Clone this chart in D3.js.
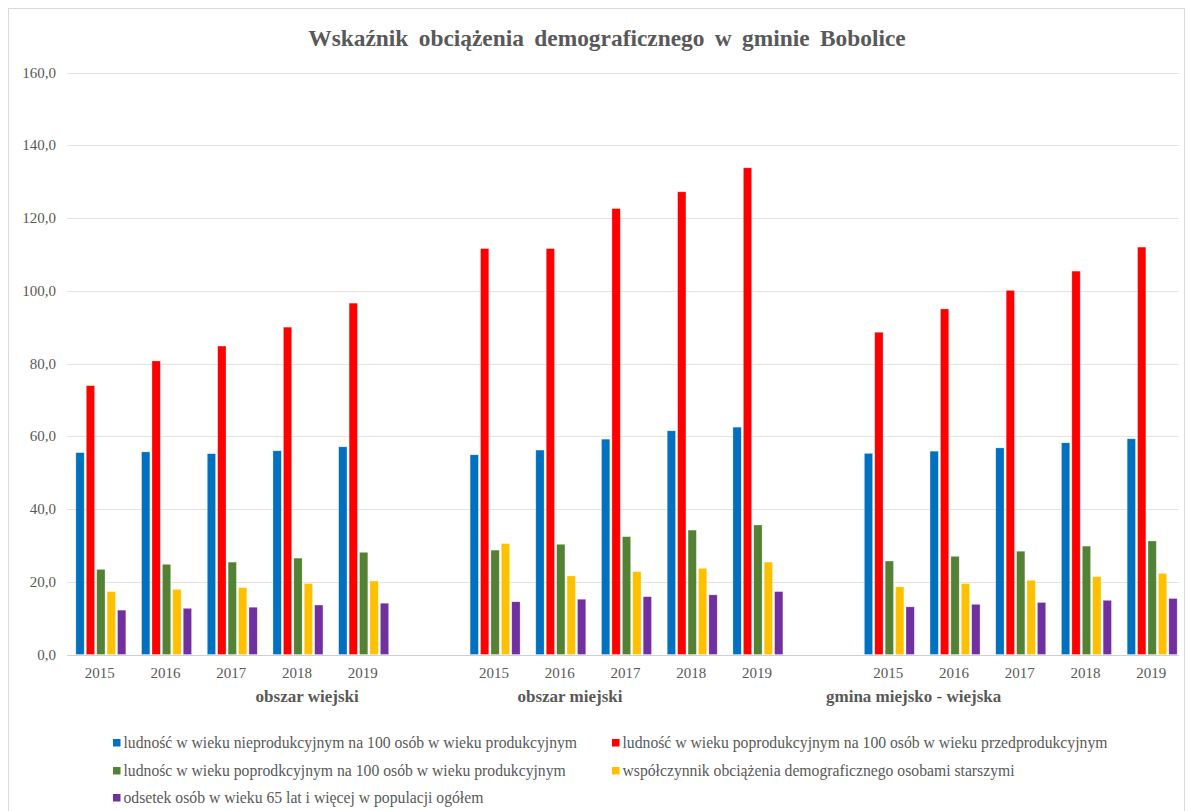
<!DOCTYPE html>
<html><head><meta charset="utf-8">
<script src="https://cdn.jsdelivr.net/npm/d3@7"></script>
<style>body{margin:0;background:#fff}svg{display:block}</style>
</head><body>
<svg id="c" width="1191" height="811"></svg>
<script>
const groups = ["obszar wiejski", "obszar miejski", "gmina miejsko - wiejska"];
const years = ["2015", "2016", "2017", "2018", "2019"];
const seriesNames = [
  "ludność w wieku nieprodukcyjnym na 100 osób w wieku produkcyjnym",
  "ludność w wieku poprodukcyjnym na 100 osób w wieku przedprodukcyjnym",
  "ludnośc w wieku poprodkcyjnym na 100 osób w wieku produkcyjnym",
  "współczynnik obciążenia demograficznego osobami starszymi",
  "odsetek osób w wieku 65 lat i więcej w populacji ogółem"
];
const colors = ["#0070C0", "#FF0000", "#548235", "#FFC000", "#7030A0"];
// values per series: 15 entries = 3 groups x 5 years
const s1 = [55.5, 55.7, 55.2, 56.0, 57.1,  54.9, 56.2, 59.2, 61.5, 62.5,  55.3, 55.9, 56.8, 58.2, 59.3];
const s2 = [73.9, 80.7, 84.8, 90.0, 96.6,  111.6, 111.6, 122.6, 127.2, 133.8,  88.6, 95.0, 100.1, 105.4, 112.0];
const s3 = [23.4, 24.8, 25.4, 26.5, 28.1,  28.7, 30.3, 32.4, 34.2, 35.6,  25.7, 27.0, 28.4, 29.8, 31.2];
const s4 = [17.3, 17.9, 18.4, 19.5, 20.2,  30.5, 21.6, 22.8, 23.7, 25.4,  18.6, 19.5, 20.4, 21.4, 22.3];
const s5 = [12.2, 12.7, 13.0, 13.6, 14.1,  14.5, 15.2, 15.9, 16.4, 17.3,  13.1, 13.8, 14.3, 14.9, 15.4];
const seriesValues = [s1, s2, s3, s4, s5];
const yTicks = [0, 20, 40, 60, 80, 100, 120, 140, 160];

const svg = d3.select("#c");
const serif = "'Liberation Serif','Times New Roman',serif";
const txt = "#595959";

// chart frame
svg.append("rect").attr("x", 8.5).attr("y", 8.5).attr("width", 1176).attr("height", 812)
  .attr("fill", "#fff").attr("stroke", "#d9d9d9").attr("stroke-width", 1);

// slots: 5 per group with one blank between groups
const slots = [];
groups.forEach((g, gi) => {
  years.forEach((yv, yi) => slots.push({key: gi + "-" + yv, group: gi, year: yv, idx: gi * 5 + yi}));
  if (gi < groups.length - 1) slots.push({key: "blank" + gi, blank: true});
});

const x = d3.scaleBand().domain(slots.map(d => d.key)).range([68, 1185]).padding(0);
const inner = d3.scaleBand().domain(d3.range(5)).range([-25, 25]).paddingInner(0.2);
const y = d3.scaleLinear().domain([0, 160]).range([654.5, 72.5]);

// gridlines
svg.append("g").selectAll("line").data(yTicks).join("line")
  .attr("x1", 67).attr("x2", 1179)
  .attr("y1", d => Math.round(y(d)) + 0.5).attr("y2", d => Math.round(y(d)) + 0.5)
  .attr("stroke", d => d === 0 ? "#d0d0d0" : "#e3e3e3").attr("stroke-width", 1.2);

// y labels
const fmt = d => d.toFixed(1).replace(".", ",");
svg.append("g").selectAll("text").data(yTicks).join("text")
  .attr("x", 56).attr("y", d => y(d) + 5).attr("text-anchor", "end")
  .attr("font-family", serif).attr("font-size", 15).attr("fill", txt).text(fmt);

// bars
const dataSlots = slots.filter(d => !d.blank);
const gBars = svg.append("g");
dataSlots.forEach(sl => {
  const cx = x(sl.key) + x.bandwidth() / 2;
  seriesValues.forEach((vals, si) => {
    const v = vals[sl.idx];
    gBars.append("rect")
      .attr("x", cx + inner(si)).attr("width", inner.bandwidth())
      .attr("y", y(v)).attr("height", y(0) - y(v))
      .attr("fill", colors[si]).attr("stroke", "#fff").attr("stroke-opacity", 0.5).attr("stroke-width", 0.6);
  });
});

// year labels
svg.append("g").selectAll("text").data(dataSlots).join("text")
  .attr("x", d => x(d.key) + x.bandwidth() / 2 - 1).attr("y", 678).attr("text-anchor", "middle")
  .attr("font-family", serif).attr("font-size", 15).attr("fill", txt).text(d => d.year);

// group labels (anchored at a fractional slot position, as in the original layout)
const groupAnchor = [[0, 3.14], [1, 1.14], [2, 0.37]];
svg.append("g").selectAll("text").data(groups).join("text")
  .attr("x", (g, gi) => x(gi + "-" + years[0]) + x.bandwidth() * (groupAnchor[gi][1] + 0.5))
  .attr("y", 702).attr("text-anchor", "middle")
  .attr("font-family", serif).attr("font-size", 17).attr("font-weight", "bold").attr("fill", txt)
  .text(d => d);

// title
svg.append("text").attr("x", 607).attr("y", 46).attr("text-anchor", "middle")
  .attr("font-family", serif).attr("font-size", 23.4).attr("font-weight", "bold")
  .attr("fill", txt).attr("word-spacing", 4.5).text("Wskaźnik obciążenia demograficznego w gminie Bobolice");

// legend
const legPos = [[113, 743], [612, 743], [113, 771], [612, 771], [113, 798]];
const leg = svg.append("g").selectAll("g").data(seriesNames).join("g")
  .attr("transform", (d, i) => `translate(${legPos[i][0]},${legPos[i][1]})`);
leg.append("rect").attr("x", 0).attr("y", -4).attr("width", 7.5).attr("height", 7.5).attr("fill", (d, i) => colors[i]);
leg.append("text").attr("x", 10.5).attr("y", 5).attr("font-family", serif).attr("font-size", 15.7)
  .attr("fill", txt).text(d => d);
</script>
</body></html>
